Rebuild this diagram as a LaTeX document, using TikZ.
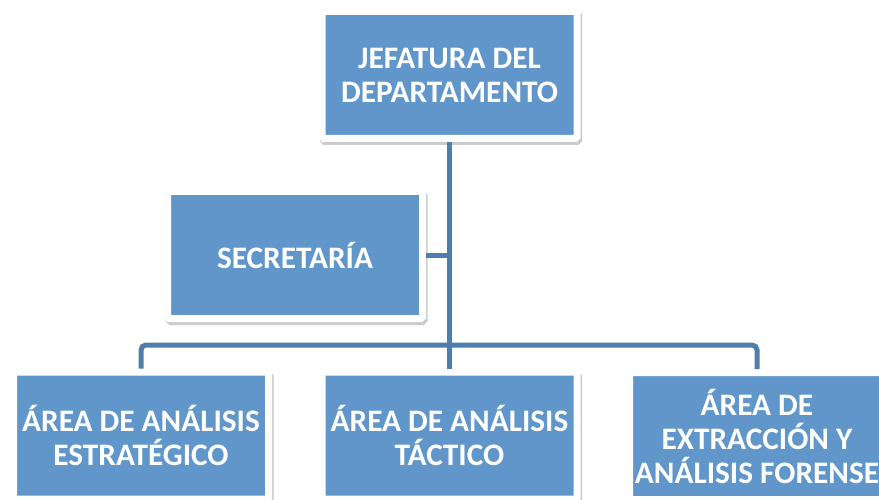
\documentclass[tikz,border=0pt]{standalone}
\usepackage{fontspec}
\setmainfont{Carlito}
\usetikzlibrary{shadows}
\definecolor{boxblue}{RGB}{96,150,201}
\definecolor{lineblue}{RGB}{80,126,172}
\tikzset{
  orgbox/.style={rectangle, fill=boxblue, draw=white, line width=7pt,
    rounded corners=1.5pt, minimum width=255pt, minimum height=127pt,
    inner sep=0pt, text=white, align=center,
    font=\fontsize{31.3}{34}\selectfont\bfseries,
    drop shadow={shadow xshift=1.5pt, shadow yshift=-3pt, opacity=0.45,
      fill=black!45, draw=black!45, line width=7pt}},
  conn/.style={draw=lineblue, line width=5pt}
}
\begin{document}
\begin{tikzpicture}[x=1pt,y=-1pt]
\useasboundingbox (0,0) rectangle (879,500);
\fill[white] (0,0) rectangle (879,500);
\coordinate (hbar) at (449,345);
\node[orgbox] (top) at (449.5,75) {JEFATURA DEL\\DEPARTAMENTO};
\node[orgbox] (sec) at (295,255) {SECRETARÍA};
\node[orgbox] (b1) at (141,435.5) {ÁREA DE ANÁLISIS\\ESTRATÉGICO};
\node[orgbox] (b2) at (449.5,435.5) {ÁREA DE ANÁLISIS\\TÁCTICO};
\node[orgbox] (b3) at (757,436) {ÁREA DE\\EXTRACCIÓN Y\\ANÁLISIS FORENSE};
\draw[conn] (top.south) -- (b2.north);
\draw[conn] (sec.east) -- (sec.east -| top.south);
\draw[conn, rounded corners=5pt] (b1.north) -- (b1.north |- hbar) -- (b3.north |- hbar) -- (b3.north);
\end{tikzpicture}
\end{document}
